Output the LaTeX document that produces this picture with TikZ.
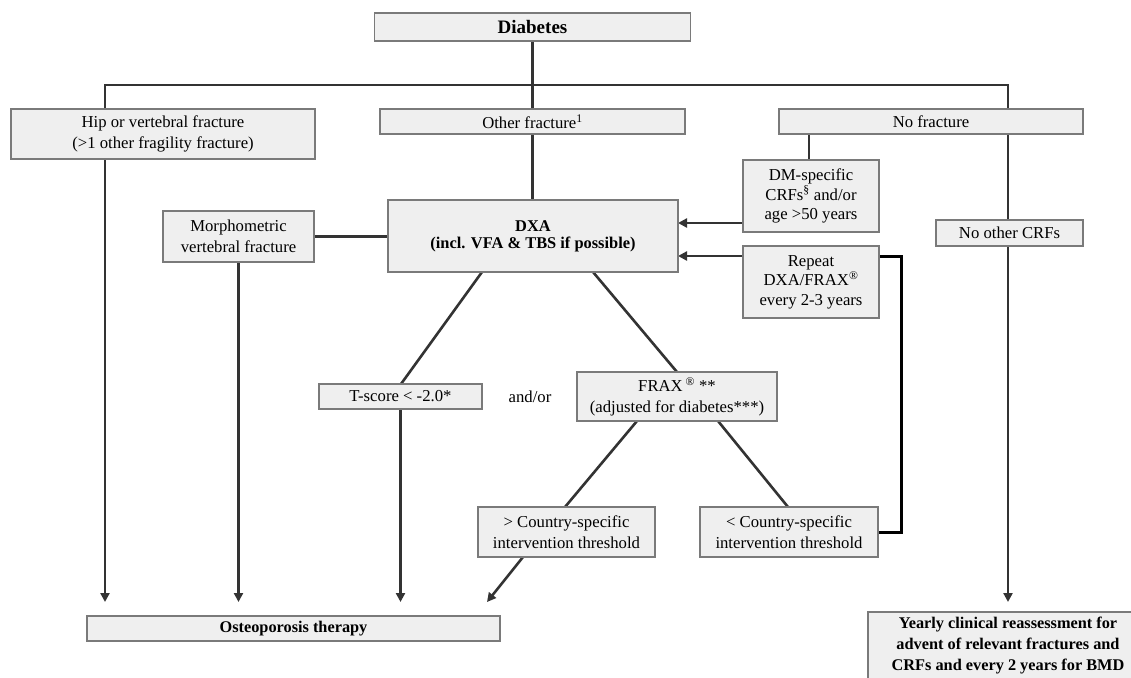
\documentclass[tikz,border=0pt]{standalone}
\usepackage{fontspec}
\setmainfont{Liberation Serif}
\usetikzlibrary{arrows.meta}
\definecolor{boxfill}{HTML}{EFEFEF}
\definecolor{boxline}{HTML}{7A7A7A}
\definecolor{conn}{HTML}{333333}
\pgfdeclarelayer{bg}
\pgfsetlayers{bg,main}
\begin{document}
\begin{tikzpicture}[x=1pt,y=-1pt,
 box/.style={draw=boxline, fill=boxfill, line width=1.2pt, inner sep=0pt, outer sep=0pt, align=center, font=\fontsize{16.7}{20.5}\selectfont},
 bbox/.style={box, font=\fontsize{16.3}{21}\selectfont\bfseries},
 link/.style={draw=conn, line width=2.6pt},
 arr/.style={link, -{Triangle[length=9pt,width=9pt]}},
 bracketline/.style={draw=black, line width=3pt},
]
\useasboundingbox (0,0) rectangle (1131,677);
% nodes
\node[bbox, minimum width=316, minimum height=28, font=\fontsize{19}{22}\selectfont\bfseries] (diab) at (532.5,27) {Diabetes};
\node[box, minimum width=304, minimum height=50] (hip) at (163,134) {Hip or vertebral fracture\\(>1 other fragility fracture)};
\node[box, minimum width=305, minimum height=25] (other) at (532.5,121.5) {Other fracture\textsuperscript{1}};
\node[box, minimum width=304, minimum height=25] (nofx) at (931,121.5) {No fracture};
\node[box, minimum width=136, minimum height=72, font=\fontsize{16.7}{19.5}\selectfont] (dm) at (811,196) {DM-specific\\CRFs\textsuperscript{§} and/or\\age >50 years};
\node[box, minimum width=147, minimum height=26] (noother) at (1009.5,233) {No other CRFs};
\node[box, minimum width=290, minimum height=72, font=\fontsize{16.4}{17}\selectfont\bfseries] (dxa) at (533,236) {DXA\\(incl. VFA \& TBS if possible)};
\node[box, minimum width=151, minimum height=51] (morph) at (238.5,236.5) {Morphometric\\vertebral fracture};
\node[box, minimum width=136, minimum height=72, font=\fontsize{16.7}{19.5}\selectfont] (rep) at (811,282) {Repeat\\DXA/FRAX\textsuperscript{®}\\every 2-3 years};
\node[box, minimum width=163, minimum height=25] (tscore) at (400.5,396.5) {T-score < -2.0*};
\node[font=\fontsize{16.7}{20.5}\selectfont] (andor) at (530,396.5) {and/or};
\node[box, minimum width=200, minimum height=49] (frax) at (677,396.5) {FRAX\,\textsuperscript{®} **\\(adjusted for diabetes***)};
\node[box, minimum width=177, minimum height=50] (gtc) at (566.5,532) {> Country-specific\\intervention threshold};
\node[box, minimum width=178, minimum height=50] (ltc) at (789,532) {< Country-specific\\intervention threshold};
\node[bbox, minimum width=413, minimum height=25] (osteo) at (293.5,628.5) {Osteoporosis therapy};
\node[bbox, minimum width=280, minimum height=68] (yearly) at (1008,646) {Yearly clinical reassessment for\\advent of relevant fractures and\\CRFs and every 2 years for BMD};
% helper coordinates
\coordinate (jL) at (105,85);
\coordinate (jR) at (1008,85);
\coordinate (gtip) at (487,602);
\coordinate (dmA) at ([yshift=-27pt]dm.west);
\coordinate (rpA) at ([yshift=26pt]rep.west);
\coordinate (rpB) at ([yshift=26pt]rep.east);
\coordinate (hipS) at ([xshift=-58pt]hip.south);
% connectors
\begin{pgfonlayer}{bg}
\draw[link] (diab.south) -- (other.north);
\draw[link] ([xshift=-58pt]hip.north) -- (jL) -- (jR) -- (jR |- noother.north);
\draw[arr, shorten >=14pt] (hipS) -- (hipS |- osteo.north);
\draw[link] (other.south) -- (other.south |- dxa.north);
\draw[link] (morph.east) -- (morph.east -| dxa.west);
\draw[arr, shorten >=14pt] (morph.south) -- (morph.south |- osteo.north);
\draw[link] ([xshift=94pt]dxa.south west) -- ([xshift=82pt]tscore.north west);
\draw[link] ([xshift=205pt]dxa.south west) -- (frax.north);
\draw[arr, shorten >=14pt] (tscore.south) -- (tscore.south |- osteo.north);
\draw[link] ([xshift=60pt]frax.south west) -- ([xshift=87pt]gtc.north west);
\draw[link] ([xshift=141pt]frax.south west) -- ([xshift=88pt]ltc.north west);
\draw[arr] ([xshift=45pt]gtc.south west) -- (gtip);
\draw[link] ([xshift=30pt]nofx.south west) -- ([xshift=66pt]dm.north west);
\draw[arr] (dmA) -- (dmA -| dxa.east);
\draw[arr] (rpA) -- (rpA -| dxa.east);
\draw[bracketline] (rpB) -- ++(22,0) |- (ltc.east);
\draw[arr, shorten >=10pt] (jR |- noother.south) -- (jR |- yearly.north);
\end{pgfonlayer}
\end{tikzpicture}
\end{document}
